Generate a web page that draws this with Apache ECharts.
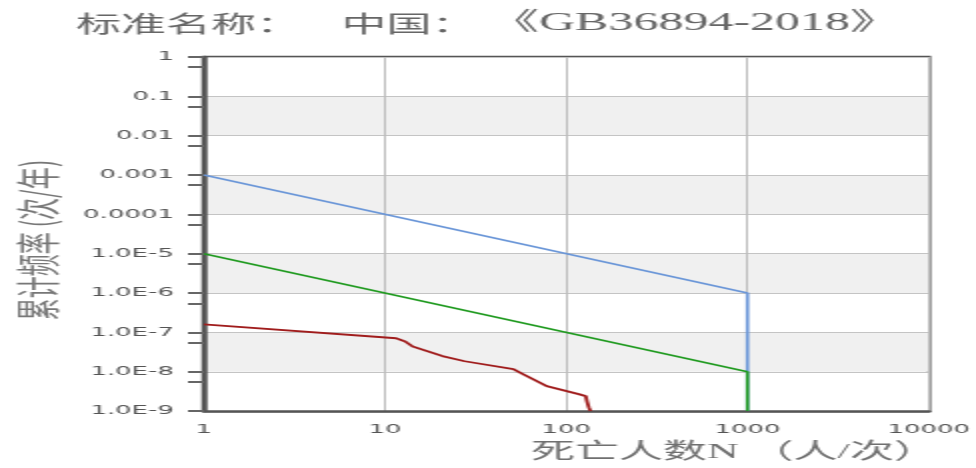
<!DOCTYPE html>
<html>
<head>
<meta charset="utf-8">
<script src="https://cdn.jsdelivr.net/npm/echarts@6/dist/echarts.min.js"></script>
<style>
  html, body { margin: 0; padding: 0; background: #fff; overflow: hidden; }
  /* the reference is stretched sideways, so draw narrow and widen */
  #fn-chart { width: 488px; height: 468px; transform: scaleX(2); transform-origin: 0 0; }
</style>
</head>
<body>
<div id="fn-chart"></div>
<script>
const xTickLabels = ['1', '10', '100', '1000', '10000'];
const yTickLabels = ['1.0E-9', '1.0E-8', '1.0E-7', '1.0E-6', '1.0E-5', '0.0001', '0.001', '0.01', '0.1', '1'];

// upper limit (blue)
const upperN = [1, 1000, 1000];
const upperF = [1e-3, 1e-6, 1e-9];

// lower limit (green)
const lowerN = [1, 1000, 1000];
const lowerF = [1e-5, 1e-8, 1e-9];

// societal risk curve (red)
const riskN = [1, 11.5, 12.9, 14.2, 20.7, 27.5, 51, 58, 78, 117, 128, 130, 133, 136];
const riskF = [1.6e-7, 7.1e-8, 5.9e-8, 4.4e-8, 2.5e-8, 1.85e-8, 1.16e-8, 8.6e-9, 4.3e-9, 2.7e-9, 2.4e-9, 1.8e-9, 1.26e-9, 1e-9];

(function () {
  function pairs(xs, ys) {
    return xs.map((x, i) => [x, ys[i]]);
  }

  function expOf(v) {
    return Math.round(Math.log10(v));
  }

  function renderFNChart(containerId) {
    const labelFont = { color: '#555', fontSize: 13, fontFamily: 'DejaVu Sans' };
    const tickStyle = { color: '#666', width: 2 };

    const option = {
      animation: false,
      title: {
        text: '{c|标准名称：    中国：}{g| 《GB36894-2018》}',
        left: 'center',
        top: 6,
        textStyle: {
          color: '#666',
          fontWeight: 'normal',
          rich: {
            c: { fontSize: 22.5, fontWeight: 'normal', color: '#666', fontFamily: 'Noto Sans CJK SC' },
            g: { fontSize: 25, fontWeight: 'normal', color: '#666', fontFamily: "'Liberation Serif', 'Noto Sans CJK SC'" }
          }
        }
      },
      grid: {
        left: 98,
        right: 19,
        top: 57,
        bottom: 56,
        show: true,
        borderColor: '#555',
        borderWidth: 2.5
      },
      xAxis: {
        type: 'log',
        logBase: 10,
        min: 1,
        max: 10000,
        interval: 1,
        name: '死亡人数N （人/次）',
        nameLocation: 'middle',
        nameGap: 29,
        nameTextStyle: {
          fontSize: 22,
          color: '#707070',
          fontFamily: "'Liberation Serif', 'Noto Sans CJK SC'",
          padding: [0, 0, 0, 168]
        },
        axisLine: { show: true, onZero: false, lineStyle: { color: '#555', width: 2.5 } },
        axisTick: { show: false },
        axisLabel: Object.assign({
          margin: 12,
          formatter: v => xTickLabels[expOf(v)]
        }, labelFont),
        splitLine: { show: true, lineStyle: { color: '#bdbdbd', width: 1 } }
      },
      yAxis: {
        type: 'log',
        logBase: 10,
        min: 1e-9,
        max: 1,
        interval: 1,
        splitNumber: 9,
        name: '累计频率 (次/年)',
        nameLocation: 'middle',
        nameGap: 72,
        nameTextStyle: {
          fontSize: 22,
          color: '#777',
          fontFamily: 'Noto Sans CJK SC',
          padding: [0, 12, 0, 0]
        },
        axisLine: { show: true, onZero: false, lineStyle: { color: '#555', width: 2.5 } },
        axisTick: { show: true, length: 8, lineStyle: tickStyle },
        minorTick: { show: true, splitNumber: 2, length: 8, lineStyle: tickStyle },
        axisLabel: Object.assign({
          margin: 15,
          formatter: v => yTickLabels[expOf(v) + 9]
        }, labelFont),
        splitLine: { show: true, lineStyle: { color: '#c4c4c4', width: 1 } },
        splitArea: { show: true, areaStyle: { color: ['#ffffff', '#f0f0f0'] } }
      },
      series: [
        {
          name: 'upper',
          type: 'line',
          showSymbol: false,
          data: pairs(upperN, upperF),
          lineStyle: { color: '#6a96d8', width: 1.7 }
        },
        {
          name: 'lower',
          type: 'line',
          showSymbol: false,
          data: pairs(lowerN, lowerF),
          lineStyle: { color: '#1f9a1f', width: 1.6 }
        },
        {
          name: 'risk',
          type: 'line',
          showSymbol: false,
          data: pairs(riskN, riskF),
          lineStyle: { color: '#a01c1c', width: 1.8 }
        }
      ]
    };

    const chart = echarts.init(document.getElementById(containerId));
    chart.setOption(option);
  }

  renderFNChart('fn-chart');
})();
</script>
</body>
</html>
